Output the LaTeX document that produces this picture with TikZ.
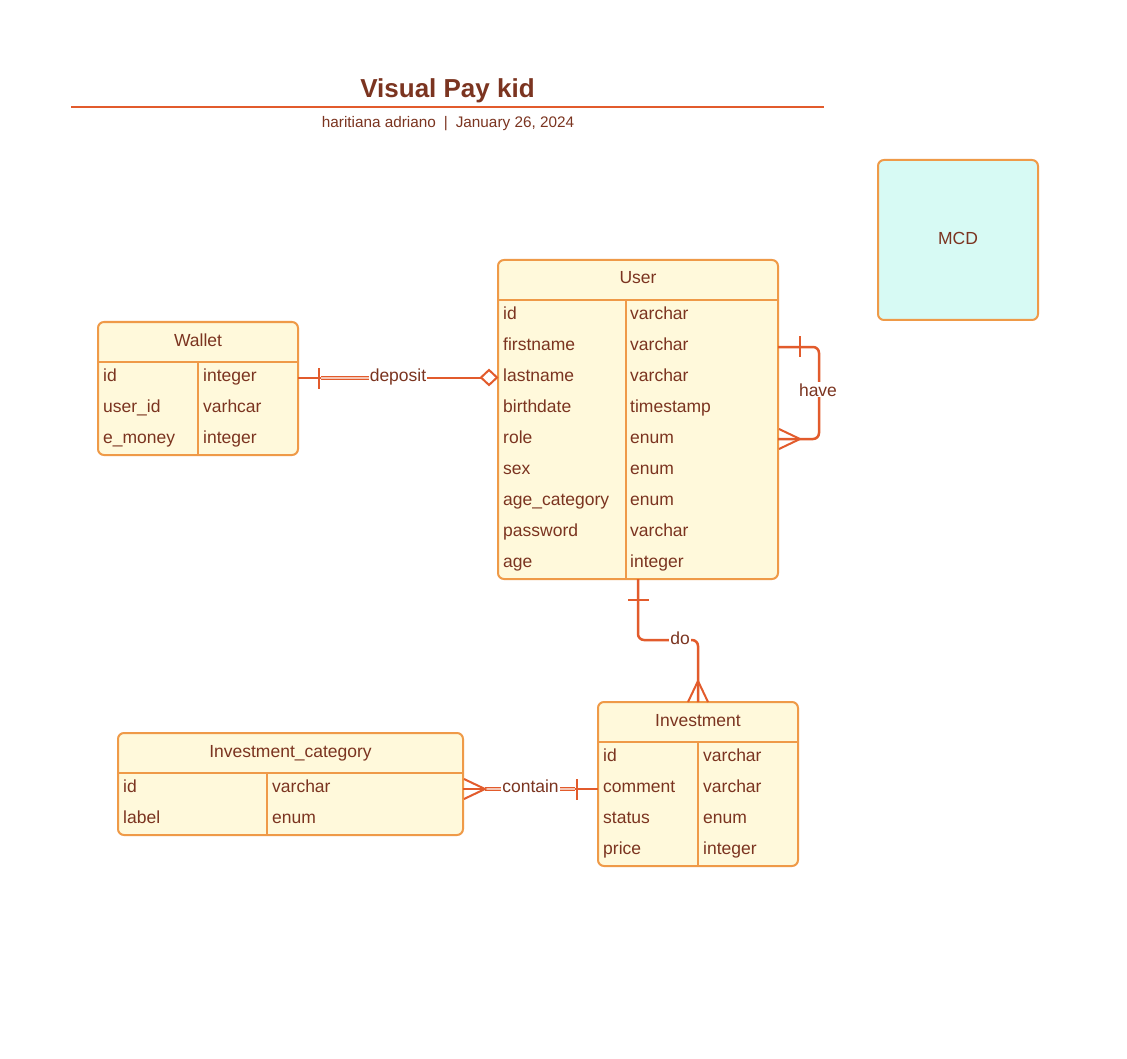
\documentclass[tikz,border=0pt]{standalone}
\usepackage{fontspec}
\setmainfont{Liberation Sans}
\definecolor{tborder}{HTML}{EF9A48}
\definecolor{tfill}{HTML}{FFF9DB}
\definecolor{ttext}{HTML}{7B3420}
\definecolor{connc}{HTML}{E25B2C}
\definecolor{mcdfill}{HTML}{D7FAF4}
\tikzset{
  tbl/.style={draw=tborder, fill=tfill, line width=2pt, rounded corners=6pt, inner sep=0pt, outer sep=0pt, anchor=north west},
  tline/.style={draw=tborder, line width=2pt},
  fld/.style={anchor=base west, inner sep=0pt, text=ttext, font=\fontsize{17.5}{21}\selectfont},
  hdr/.style={anchor=base, inner sep=0pt, text=ttext, font=\fontsize{17.5}{21}\selectfont},
  conn/.style={draw=connc, line width=2.5pt},
  endmark/.style={draw=connc, line width=2.5pt},
  dbl/.style={draw=connc, line width=1pt, double=connc!35, double distance=1.2pt},
  lbl/.style={anchor=base, fill=white, inner sep=1pt, text=ttext, font=\fontsize{17.5}{21}\selectfont},
}
\begin{document}
\begin{tikzpicture}[x=1pt,y=-1pt]
\fill[white] (0,0) rectangle (1127,1059);
\useasboundingbox (0,0) rectangle (1127,1059);

% title
\node[anchor=base, inner sep=0pt, text=ttext, font=\fontsize{26}{30}\selectfont\bfseries] (title) at (447.5,98) {Visual Pay kid};
\draw[draw=connc, line width=2pt] (71,107) -- (824,107);
\node[anchor=base, inner sep=0pt, text=ttext, font=\fontsize{15.3}{18}\selectfont] (subtitle) at (448,127.5) {haritiana adriano\hspace{8pt}|\hspace{8pt}January 26, 2024};

% MCD box
\node[draw=tborder, fill=mcdfill, line width=2pt, rounded corners=6pt, inner sep=0pt, outer sep=0pt, minimum width=160pt, minimum height=160pt, anchor=north west] (mcd) at (878,160) {};
\node[hdr] (mcd-t) at (958,245) {MCD};

% Wallet
\node[tbl, minimum width=200pt, minimum height=133pt] (wallet) at (98,322) {};
\draw[tline] (98,362) -- (298,362);
\draw[tline] (198,362) -- (198,455);
\node[hdr] (wallet-h) at (198,346) {Wallet};
\foreach \f/\t [count=\i from 0] in {id/integer, user\_id/varhcar, e\_money/integer} {
  \node[fld] (w-f\i) at (103,381.5+31*\i) {\f};
  \node[fld] (w-t\i) at (203,381.5+31*\i) {\t};
}

% User
\node[tbl, minimum width=280pt, minimum height=319pt] (user) at (498,260) {};
\draw[tline] (498,300) -- (778,300);
\draw[tline] (626,300) -- (626,579);
\node[hdr] (user-h) at (638,284) {User};
\foreach \f/\t [count=\i from 0] in {id/varchar, firstname/varchar, lastname/varchar, birthdate/timestamp, role/enum, sex/enum, age\_category/enum, password/varchar, age/integer} {
  \node[fld] (u-f\i) at (503,319.5+31*\i) {\f};
  \node[fld] (u-t\i) at (630,319.5+31*\i) {\t};
}

% Investment
\node[tbl, minimum width=200pt, minimum height=164pt] (inv) at (598,702) {};
\draw[tline] (598,742) -- (798,742);
\draw[tline] (698,742) -- (698,866);
\node[hdr] (inv-h) at (698,726) {Investment};
\foreach \f/\t [count=\i from 0] in {id/varchar, comment/varchar, status/enum, price/integer} {
  \node[fld] (i-f\i) at (603,761.5+31*\i) {\f};
  \node[fld] (i-t\i) at (703,761.5+31*\i) {\t};
}

% Investment_category
\node[tbl, minimum width=345pt, minimum height=102pt] (ic) at (118,733) {};
\draw[tline] (118,773) -- (463,773);
\draw[tline] (267,773) -- (267,835);
\node[hdr] (ic-h) at (290.5,757) {Investment\_category};
\foreach \f/\t [count=\i from 0] in {id/varchar, label/enum} {
  \node[fld] (c-f\i) at (123,792.5+31*\i) {\f};
  \node[fld] (c-t\i) at (272,792.5+31*\i) {\t};
}

% deposit: Wallet -- User
\coordinate (dep) at (0,378);
\draw[conn] (wallet.east |- dep) -- (481,378);
\draw[dbl] (321,378) -- (372,378);
\draw[endmark] (319,368) -- (319,389);
\draw[endmark, fill=white, line width=2pt] (481,377.5) -- (489,370) -- (497,377.5) -- (489,385) -- cycle;
\node[lbl] (deplbl) at (398,381) {deposit};

% have: User -- User
\coordinate (hv1) at (0,347);
\coordinate (hv2) at (0,439);
\draw[conn, rounded corners=6pt] (user.east |- hv1) -- (819,347) -- (819,439) -- (user.east |- hv2);
\draw[endmark] (800,336) -- (800,357);
\draw[endmark, line width=2pt] (779,429) -- (800,439) -- (779,449);
\node[lbl] (havelbl) at (818,396) {have};

% do: User -- Investment
\draw[conn, rounded corners=6pt] (user.south) -- (638,640) -- (698,640) -- (inv.north);
\draw[endmark] (628,600) -- (649,600);
\draw[endmark, line width=2pt] (688,702) -- (698,681) -- (708,702);
\node[lbl] (dolbl) at (680,644) {do};

% contain: Investment_category -- Investment
\coordinate (con) at (0,789);
\draw[conn] (ic.east |- con) -- (inv.west |- con);
\draw[dbl] (485,789) -- (575,789);
\draw[endmark, line width=2pt] (464,779) -- (485,789) -- (464,799);
\draw[endmark] (577,779) -- (577,800);
\node[lbl] (conlbl) at (530.5,792) {contain};
\end{tikzpicture}
\end{document}
